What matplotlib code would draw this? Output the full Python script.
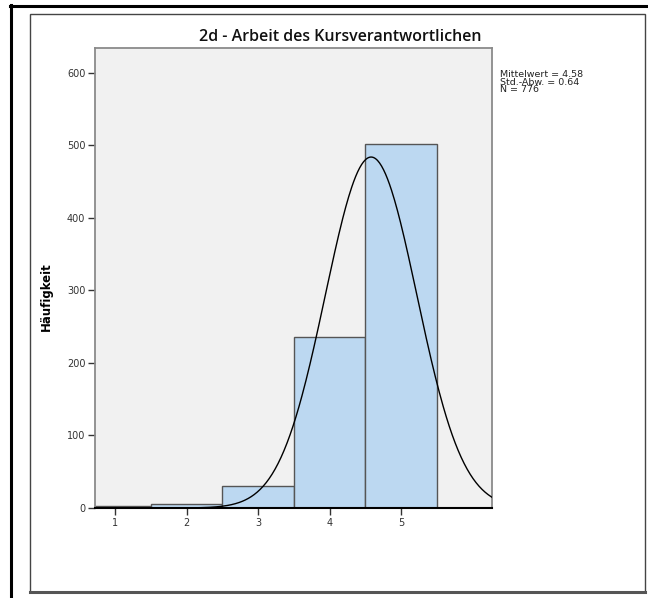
import numpy as np
import matplotlib
matplotlib.use("Agg")
import matplotlib.pyplot as plt
from matplotlib.patches import Rectangle
from matplotlib.lines import Line2D

# histogram data
scores = [1, 2, 3, 4, 5]
counts = [3, 5, 31, 236, 501]
mean_val = 4.58
std_val = 0.64
n_total = 776

title = "2d - Arbeit des Kursverantwortlichen"
y_label = "Häufigkeit"
stats_lines = ["Mittelwert = 4.58", "Std.-Abw. = 0.64", "N = 776"]

W, H = 648, 598
fig = plt.figure(figsize=(W / 100, H / 100), dpi=100)
fig.patch.set_facecolor("white")


def fx(px):
    return px / W


def fy(py):
    return 1 - py / H


# outer black frame lines (top and left)
fig.add_artist(Line2D([fx(10), fx(648)], [fy(5.5), fy(5.5)], color="black", lw=2.2,
                      transform=fig.transFigure))
fig.add_artist(Line2D([fx(11), fx(11)], [fy(5), fy(598)], color="black", lw=2.2,
                      transform=fig.transFigure))
# inner chart frame
fig.add_artist(Rectangle((fx(29.5), fy(592)), fx(645) - fx(29.5), fy(14) - fy(592),
                         fill=False, edgecolor="#444444", lw=1.0, transform=fig.transFigure))
fig.add_artist(Line2D([fx(29.5), fx(645)], [fy(592), fy(592)], color="#555555", lw=2.2,
                      transform=fig.transFigure))

ax = fig.add_axes([fx(95), fy(508), fx(492) - fx(95), fy(48) - fy(508)])
ax.set_facecolor("#f1f1f1")

ax.bar(scores, counts, width=1.0, color="#bcd8f1", edgecolor="#555555", linewidth=1.0,
       zorder=2)

# fitted normal curve
xs = np.linspace(0.72, 6.27, 400)
ys = n_total / (std_val * np.sqrt(2 * np.pi)) * np.exp(-0.5 * ((xs - mean_val) / std_val) ** 2)
ax.plot(xs, ys, color="black", lw=1.0, zorder=3)

ax.set_xlim(0.72, 6.27)
ax.set_ylim(0, 634)
ax.set_xticks(scores)
ax.set_yticks([0, 100, 200, 300, 400, 500, 600])

for side in ["left", "top", "right"]:
    ax.spines[side].set_color("#8a8a8a")
    ax.spines[side].set_linewidth(1.3)
ax.spines["bottom"].set_color("black")
ax.spines["bottom"].set_linewidth(1.5)

ax.tick_params(axis="both", direction="out", length=5, width=1, color="#333333",
               labelsize=7, labelcolor="#333333", pad=2)

ax.set_ylabel(y_label, fontsize=8.5, fontweight="bold")
ax.yaxis.set_label_coords(-0.105, 0.46)

fig.text(fx(340), fy(37), title, ha="center", va="center", fontsize=11.5,
         family="Open Sans", fontweight="semibold", color="#111111")

fig.text(fx(500), fy(70), "\n".join(stats_lines), ha="left", va="top", fontsize=6.8,
         linespacing=0.8, color="#222222")

fig.savefig("out.png", dpi=100)
